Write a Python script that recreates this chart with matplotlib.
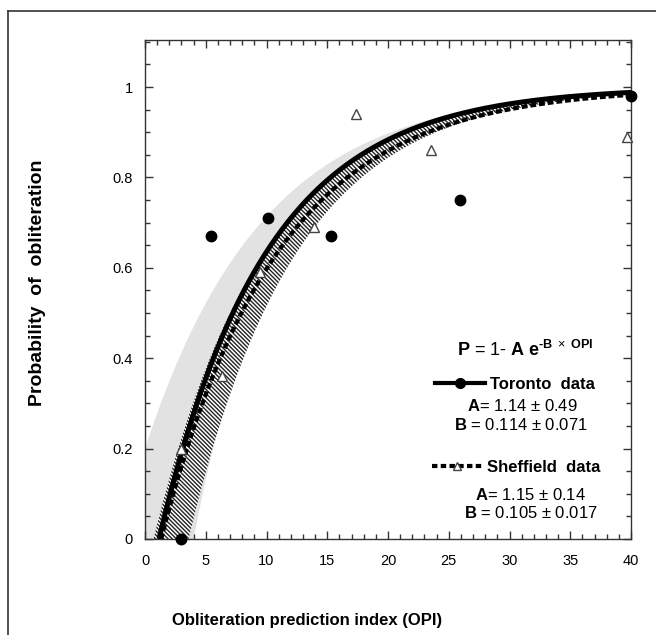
import numpy as np
import matplotlib
matplotlib.use("Agg")
import matplotlib.pyplot as plt
from matplotlib.lines import Line2D
from matplotlib.ticker import MultipleLocator

plt.rcParams['font.family'] = ['Liberation Sans', 'DejaVu Sans']
plt.rcParams['mathtext.fontset'] = 'custom'
plt.rcParams['mathtext.rm'] = 'Liberation Sans'
plt.rcParams['mathtext.bf'] = 'Liberation Sans:bold'
plt.rcParams['mathtext.it'] = 'Liberation Sans:italic'
plt.rcParams['hatch.linewidth'] = 1.0

# ---- data ----
toronto_x = [3.0, 5.4, 10.1, 15.3, 25.9, 40.0]
toronto_y = [0.0, 0.67, 0.71, 0.67, 0.75, 0.98]
sheffield_x = [3.0, 6.3, 9.5, 13.9, 17.4, 23.5, 39.7]
sheffield_y = [0.20, 0.36, 0.59, 0.69, 0.94, 0.86, 0.89]

# fitted model P = 1 - A exp(-B * OPI)
toronto_fit = [1.14, 0.114]
sheffield_fit = [1.15, 0.105]
# envelope curves of the shaded bands (same model form)
toronto_band_upper = [0.80, 0.1027]
toronto_band_lower = [1.75, 0.140]
sheffield_band_upper = [1.08, 0.110]
sheffield_band_lower = [1.50, 0.113]

x_ticks = [0, 5, 10, 15, 20, 25, 30, 35, 40]
y_ticks = [0, 0.2, 0.4, 0.6, 0.8, 1.0]
y_tick_labels = ['0', '0.2', '0.4', '0.6', '0.8', '1']


def model(p, x):
    return 1.0 - p[0] * np.exp(-p[1] * x)


W, H = 656, 635
fig = plt.figure(figsize=(W / 100, H / 100), dpi=100)
ax = fig.add_axes([145 / W, 1 - 539 / H, (631 - 145) / W, (539 - 40) / H])

xs = np.linspace(0, 40, 400)

# hatched band (Sheffield) edges
hu = model(sheffield_band_upper, xs)
hl = model(sheffield_band_lower, xs)

# gray band (Toronto)
gu = model(toronto_band_upper, xs)
gl = np.minimum(model(toronto_band_lower, xs), hl)
ax.fill_between(xs, gl, gu, facecolor='#e2e2e2', edgecolor='none', zorder=1)

ax.fill_between(xs, hl, hu, facecolor='white', edgecolor='#222222', hatch='\\' * 8,
                linewidth=0, zorder=2)

# fitted curves
x0_t = np.log(toronto_fit[0]) / toronto_fit[1]
x0_s = np.log(sheffield_fit[0]) / sheffield_fit[1]
xt = np.linspace(x0_t, 40, 400)
xsf = np.linspace(x0_s, 40, 400)
ax.plot(xsf, model(sheffield_fit, xsf), color='black', lw=3.0, dashes=(1.4, 0.7), zorder=3,
        solid_capstyle='butt', dash_capstyle='butt')
ax.plot(xt, model(toronto_fit, xt), color='black', lw=3.6, zorder=4, solid_capstyle='butt')

# data points
ax.plot(toronto_x, toronto_y, 'o', color='black', ms=7.5, zorder=6, clip_on=False)
ax.plot(sheffield_x, sheffield_y, '^', mfc='white', mec='#444444', mew=1.0, ms=7,
        zorder=6, clip_on=False)

ax.set_xlim(0, 40)
ax.set_ylim(0, 1.104)
ax.set_xticks(x_ticks)
ax.set_yticks(y_ticks)
ax.set_yticklabels(y_tick_labels)
ax.xaxis.set_minor_locator(MultipleLocator(1))
ax.yaxis.set_minor_locator(MultipleLocator(0.05))
ax.tick_params(which='both', direction='in', top=True, right=True, colors='#333333',
               labelcolor='black', width=1.0)
ax.tick_params(which='major', length=6)
ax.tick_params(which='minor', length=3.5)
ax.tick_params(axis='x', which='major', pad=11, labelsize=10.5)
ax.tick_params(axis='y', which='major', pad=9, labelsize=10.5)
for s in ax.spines.values():
    s.set_linewidth(1.0)
    s.set_color('#333333')

# annotations
ax.text(0.782, 0.379,
        '$\\mathbf{P}$ = 1- $\\mathbf{A\\ e}^{\\mathbf{\u2010B}\\ \\times\\ \\mathbf{OPI}}$',
        transform=ax.transAxes, ha='center', va='center', fontsize=13)

h1 = Line2D([], [], color='black', lw=3.0, marker='o', ms=7)
h2 = Line2D([], [], color='black', lw=3.0, dashes=(1.3, 0.8), marker='^', ms=6,
            mfc='white', mec='#444444', mew=1.0)
leg1 = ax.legend([h1], ['Toronto  data'], loc='center left', bbox_to_anchor=(0.597, 0.309),
                 frameon=False, borderpad=0, borderaxespad=0, handlelength=3.0,
                 handletextpad=0.3, prop={'weight': 'bold', 'size': 12})
ax.add_artist(leg1)
leg2 = ax.legend([h2], ['Sheffield  data'], loc='center left', bbox_to_anchor=(0.591, 0.144),
                 frameon=False, borderpad=0, borderaxespad=0, handlelength=3.0,
                 handletextpad=0.3, prop={'weight': 'bold', 'size': 12})

ax.text(0.776, 0.267, r'$\mathbf{A}$= 1.14 ± 0.49', transform=ax.transAxes,
        ha='center', va='center', fontsize=12)
ax.text(0.774, 0.228, r'$\mathbf{B}$ = 0.114 ± 0.071', transform=ax.transAxes,
        ha='center', va='center', fontsize=12)
ax.text(0.794, 0.088, r'$\mathbf{A}$= 1.15 ± 0.14', transform=ax.transAxes,
        ha='center', va='center', fontsize=12)
ax.text(0.794, 0.052, r'$\mathbf{B}$ = 0.105 ± 0.017', transform=ax.transAxes,
        ha='center', va='center', fontsize=12)

fig.text(38 / W, 1 - 283 / H, 'Probability  of  obliteration', rotation=90,
         ha='center', va='center', fontsize=14, fontweight='bold')
fig.text(307 / W, 1 - 620 / H, 'Obliteration prediction index (OPI)',
         ha='center', va='center', fontsize=12, fontweight='bold')

# outer frame
fig.add_artist(Line2D([8 / W, 8 / W], [0, 1 - 11 / H], transform=fig.transFigure,
                      color='#333333', lw=1.2))
fig.add_artist(Line2D([8 / W, 1], [1 - 11 / H, 1 - 11 / H], transform=fig.transFigure,
                      color='#333333', lw=1.2))

fig.savefig('out.png', dpi=100)
